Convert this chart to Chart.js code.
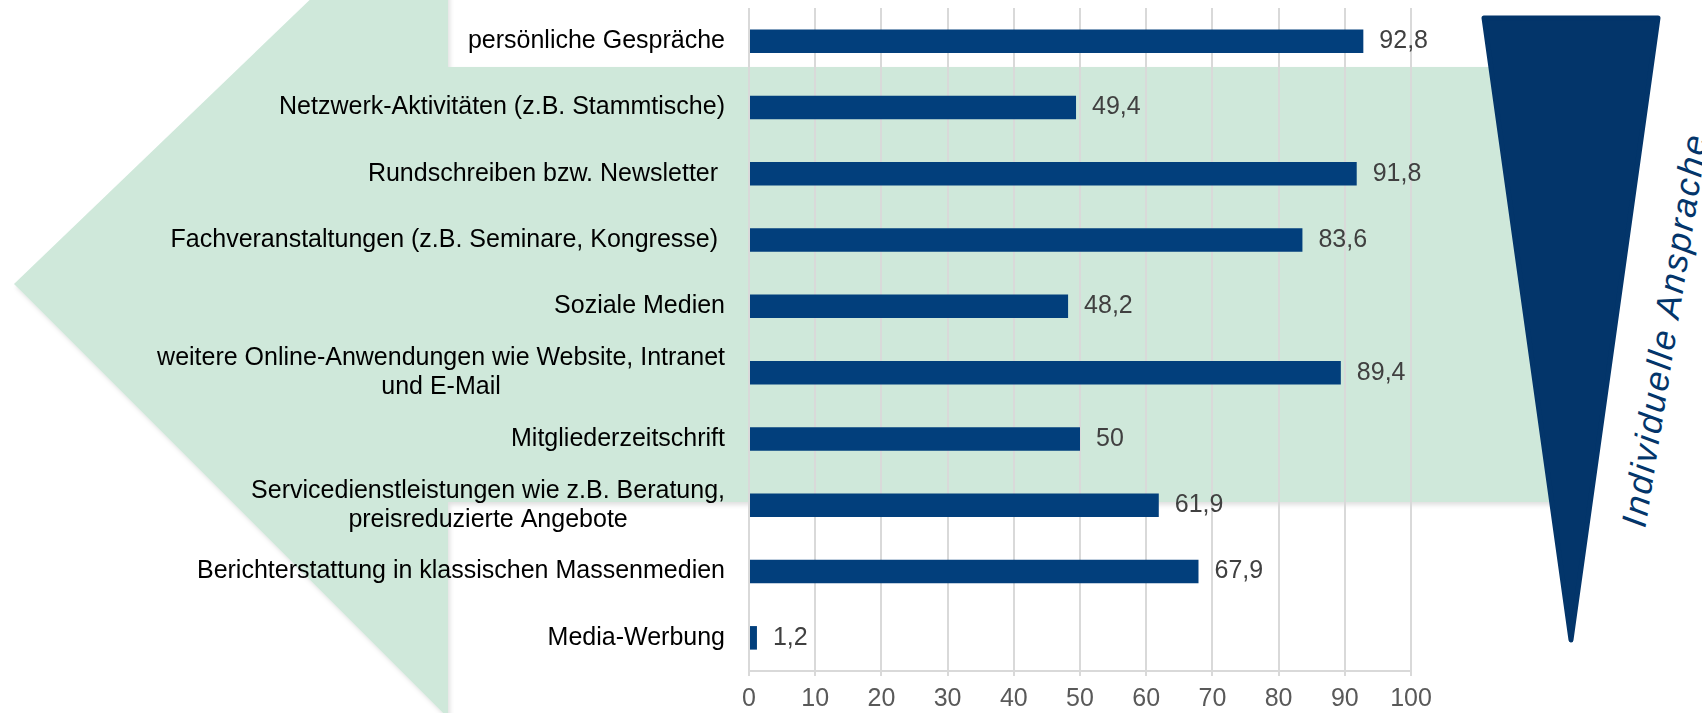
<!DOCTYPE html>
<html>
<head>
<meta charset="utf-8">
<script src="https://cdn.jsdelivr.net/npm/chart.js@4.4.1/dist/chart.umd.min.js"></script>
<style>
    html, body { margin: 0; padding: 0; background: #fff; }
    #wrap { position: relative; width: 1702px; height: 713px; overflow: hidden; }
    #wrap svg, #wrap canvas { position: absolute; left: 0; top: 0; }
</style>
</head>
<body>
<div id="wrap">
    <svg width="1702" height="713" xmlns="http://www.w3.org/2000/svg">
        <defs>
            <filter id="shadow" x="-5%" y="-5%" width="110%" height="110%">
                <feDropShadow dx="2" dy="3" stdDeviation="2" flood-color="#000" flood-opacity="0.12"/>
            </filter>
        </defs>
        <!-- green arrow pointing left -->
        <path filter="url(#shadow)" fill="#cfe8da"
              d="M14 284 L320 -10 L448 -10 L448 67 L1570 67 L1570 502 L448 502 L448 718 Z"/>
        <!-- dark wedge on the right -->
        <path fill="#03356a" stroke="#03356a" stroke-width="5" stroke-linejoin="round"
              d="M1484 18 L1658 18 L1571 640 Z"/>
        <text x="1664" y="331" transform="rotate(-81 1664 331)" text-anchor="middle"
              dominant-baseline="central" font-family="'Liberation Sans', Arial, sans-serif"
              font-style="italic" font-size="35" fill="#03356a"
              textLength="396" lengthAdjust="spacing">Individuelle Ansprache</text>
    </svg>
    <canvas id="chart" width="1702" height="713"></canvas>
</div>
<script>
const categories = [
    ['persönliche Gespräche'],
    ['Netzwerk-Aktivitäten (z.B. Stammtische)'],
    ['Rundschreiben bzw. Newsletter '],
    ['Fachveranstaltungen (z.B. Seminare, Kongresse) '],
    ['Soziale Medien'],
    ['weitere Online-Anwendungen wie Website, Intranet', 'und E-Mail'],
    ['Mitgliederzeitschrift'],
    ['Servicedienstleistungen wie z.B. Beratung,', 'preisreduzierte Angebote'],
    ['Berichterstattung in klassischen Massenmedien'],
    ['Media-Werbung']
]
const values = [92.8, 49.4, 91.8, 83.6, 48.2, 89.4, 50, 61.9, 67.9, 1.2]
const xTicks = [0, 10, 20, 30, 40, 50, 60, 70, 80, 90, 100]

const FONT = '"Liberation Sans", Arial, sans-serif'
const fmt = v => String(v).replace('.', ',')

// category labels: single lines right aligned, wrapped ones centred per line
const categoryLabels = {
    id: 'categoryLabels',
    afterDraw(chart) {
        const { ctx, chartArea, scales: { y } } = chart
        const right = chartArea.left - 24
        const lineGap = 29
        ctx.save()
        ctx.font = `25px ${FONT}`
        ctx.fillStyle = '#000000'
        ctx.textBaseline = 'middle'
        ctx.textAlign = 'center'
        categories.forEach((lines, i) => {
            const w = Math.max(...lines.map(l => ctx.measureText(l).width))
            const cx = right - w / 2
            const cy = y.getPixelForValue(i)
            lines.forEach((l, k) => {
                ctx.fillText(l, cx, cy + (k - (lines.length - 1) / 2) * lineGap)
            })
        })
        ctx.restore()
    }
}

const valueLabels = {
    id: 'valueLabels',
    afterDatasetsDraw(chart) {
        const { ctx } = chart
        const meta = chart.getDatasetMeta(0)
        ctx.save()
        ctx.font = `25px ${FONT}`
        ctx.fillStyle = '#404040'
        ctx.textBaseline = 'middle'
        ctx.textAlign = 'left'
        meta.data.forEach((bar, i) => {
            ctx.fillText(fmt(values[i]), bar.x + 16, bar.y)
        })
        ctx.restore()
    }
}

new Chart(document.getElementById('chart'), {
    type: 'bar',
    data: {
        labels: categories,
        datasets: [{
            data: values,
            backgroundColor: '#023f7c',
            categoryPercentage: 1,
            barPercentage: 0.355
        }]
    },
    options: {
        indexAxis: 'y',
        responsive: false,
        devicePixelRatio: 1,
        animation: false,
        layout: { padding: { left: 749, right: 291, top: 8, bottom: 0 } },
        plugins: {
            legend: { display: false },
            tooltip: { enabled: false }
        },
        scales: {
            y: { display: false },
            x: {
                min: 0,
                max: 100,
                afterBuildTicks: s => { s.ticks = xTicks.map(v => ({ value: v })) },
                afterFit: s => { s.height = 42 },
                ticks: {
                    color: '#595959',
                    padding: 8,
                    maxRotation: 0,
                    font: { family: FONT, size: 25 }
                },
                grid: { color: '#d9d9d9', lineWidth: 2, tickLength: 5 },
                border: { color: '#d9d9d9', width: 2 }
            }
        }
    },
    plugins: [categoryLabels, valueLabels]
})
</script>
</body>
</html>
